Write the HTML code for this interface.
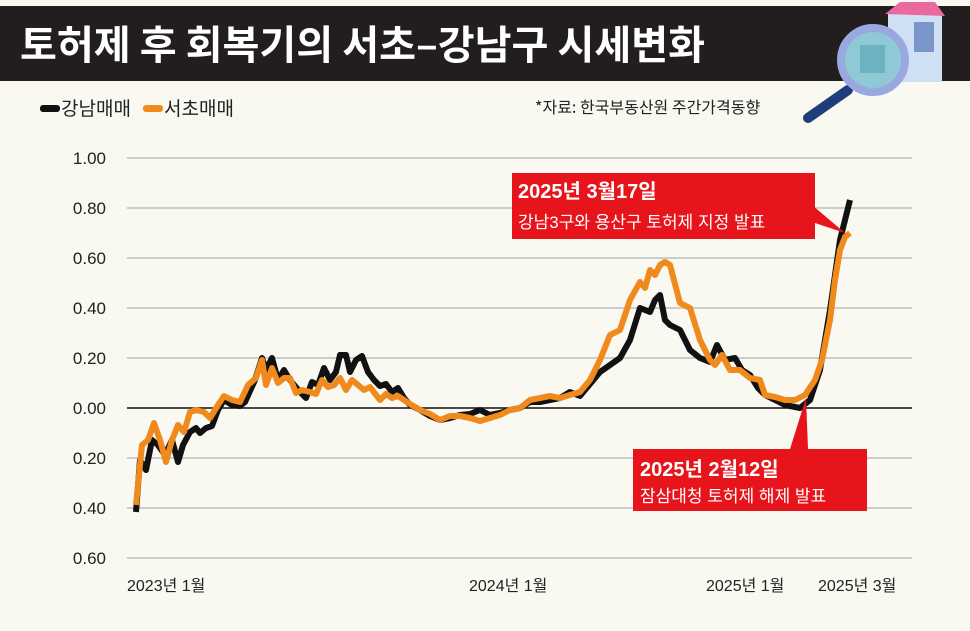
<!DOCTYPE html>
<html><head><meta charset="utf-8"><style>
body{margin:0;width:970px;height:631px;background:#f9f8f1;overflow:hidden;font-family:"Liberation Sans","Noto Sans CJK KR",sans-serif;}
</style></head><body>
<svg width="970" height="631" xmlns="http://www.w3.org/2000/svg" style="position:absolute;left:0;top:0">
<rect x="0" y="0" width="970" height="631" fill="#f9f8f1"/>
<rect x="0" y="6" width="970" height="75" fill="#231e1e"/>
<text x="20" y="59" fill="#fff" font-size="40" font-weight="bold" textLength="685" lengthAdjust="spacingAndGlyphs" font-family="Noto Sans CJK KR, sans-serif">토허제 후 회복기의 서초–강남구 시세변화</text>
<!-- icon -->
<rect x="888" y="12" width="54" height="70" fill="#cfe0f5"/>
<polygon points="885,14 900,2 935,2 945,16" fill="#e96aa0"/>
<rect x="914" y="22" width="20" height="30" fill="#7a95c9"/>
<line x1="848" y1="90" x2="808" y2="118" stroke="#1d3e7a" stroke-width="10" stroke-linecap="round"/>
<circle cx="873" cy="60" r="32" fill="#8fc9d6" stroke="#9aa8e0" stroke-width="8"/>
<rect x="860" y="45" width="25" height="28" fill="#6cb2c0"/>
<!-- legend -->
<rect x="40" y="105" width="20" height="7" rx="3" fill="#111"/>
<text x="61" y="115" font-size="19" fill="#222" font-family="Noto Sans CJK KR, sans-serif">강남매매</text>
<rect x="143" y="105" width="20" height="7" rx="3" fill="#f08a1c"/>
<text x="164" y="115" font-size="19" fill="#222" font-family="Noto Sans CJK KR, sans-serif">서초매매</text>
<text x="535" y="113" font-size="16" fill="#222" font-family="Noto Sans CJK KR, sans-serif">*자료: 한국부동산원 주간가격동향</text>
<!-- grid -->
<g stroke="#bdbdbd" stroke-width="1.5">
<line x1="127" y1="158" x2="912" y2="158"/><line x1="127" y1="208" x2="912" y2="208"/>
<line x1="127" y1="258" x2="912" y2="258"/><line x1="127" y1="308" x2="912" y2="308"/>
<line x1="127" y1="358" x2="912" y2="358"/><line x1="127" y1="458" x2="912" y2="458"/>
<line x1="127" y1="508" x2="912" y2="508"/><line x1="127" y1="558" x2="912" y2="558"/>
</g>
<line x1="127" y1="408" x2="912" y2="408" stroke="#111" stroke-width="1.5"/>
<g font-size="17" fill="#222" text-anchor="end">
<text x="106" y="164">1.00</text><text x="106" y="214">0.80</text><text x="106" y="264">0.60</text>
<text x="106" y="314">0.40</text><text x="106" y="364">0.20</text><text x="106" y="414">0.00</text>
<text x="106" y="464">0.20</text><text x="106" y="514">0.40</text><text x="106" y="564">0.60</text>
</g>
<g font-size="16" fill="#222" font-family="Liberation Sans, Noto Sans CJK KR, sans-serif">
<text x="127" y="591">2023년 1월</text><text x="469" y="591">2024년 1월</text>
<text x="706" y="591">2025년 1월</text><text x="818" y="591">2025년 3월</text>
</g>
<polyline fill="none" stroke="#111" stroke-width="6" stroke-linejoin="round" points="136,512 140,460 146,470 152,440 158,445 165,455 172,440 178,462 183,445 190,432 196,428 200,433 206,428 212,426 218,410 224,400 232,405 240,406 245,402 255,380 262,358 266,370 272,358 278,380 284,370 290,380 300,392 306,398 312,382 318,385 324,368 330,380 336,372 340,355 346,355 350,372 356,360 362,356 368,372 374,380 380,386 386,384 392,392 398,388 404,398 410,405 420,410 430,416 440,420 450,418 460,415 470,414 480,410 490,415 500,413 510,410 520,408 530,402 540,402 550,400 560,398 570,392 580,396 590,384 600,372 610,365 620,358 630,340 640,308 650,312 655,300 660,295 665,320 670,325 680,330 690,350 700,358 710,362 717,345 725,360 735,358 742,370 750,375 758,388 765,395 775,400 785,405 800,408 810,400 820,370 830,310 840,240 850,200"/>
<polyline fill="none" stroke="#f08a1c" stroke-width="6" stroke-linejoin="round" points="136,505 142,445 148,440 154,423 160,440 166,462 172,440 178,425 184,432 190,412 196,410 204,412 210,418 218,405 224,396 232,400 240,402 248,385 256,378 262,360 266,385 272,368 278,383 284,378 290,378 296,393 302,390 310,392 316,394 322,380 328,387 334,385 340,378 346,390 352,380 358,385 364,390 370,387 380,400 386,394 392,398 398,396 410,404 420,410 430,414 440,420 450,416 460,416 470,418 480,421 490,418 500,415 510,410 520,408 530,400 540,398 550,396 560,398 570,395 580,392 590,380 600,360 610,335 620,330 630,300 640,282 645,288 650,270 655,275 660,265 665,262 670,265 680,303 690,308 700,340 710,360 715,365 722,355 730,370 740,370 750,378 760,380 765,395 775,397 785,400 795,400 805,395 815,380 822,360 830,320 835,280 840,250 845,237 850,233"/>
<!-- callouts -->
<polygon points="812,205 812,222 845,233" fill="#e8141c"/>
<polygon points="790,449 808,449 806,398" fill="#e8141c"/>
<rect x="512" y="173" width="303" height="66" fill="#e8141c"/>
<text x="518" y="198" fill="#fff" font-size="20" font-weight="bold" font-family="Liberation Sans, Noto Sans CJK KR, sans-serif">2025년 3월17일</text>
<text x="518" y="228" fill="#fff" font-size="17" font-family="Liberation Sans, Noto Sans CJK KR, sans-serif">강남3구와 용산구 토허제 지정 발표</text>
<rect x="633" y="449" width="234" height="62" fill="#e8141c"/>
<text x="640" y="476" fill="#fff" font-size="20" font-weight="bold" font-family="Liberation Sans, Noto Sans CJK KR, sans-serif">2025년 2월12일</text>
<text x="640" y="502" fill="#fff" font-size="17" font-family="Liberation Sans, Noto Sans CJK KR, sans-serif">잠삼대청 토허제 해제 발표</text>
</svg>
</body></html>
